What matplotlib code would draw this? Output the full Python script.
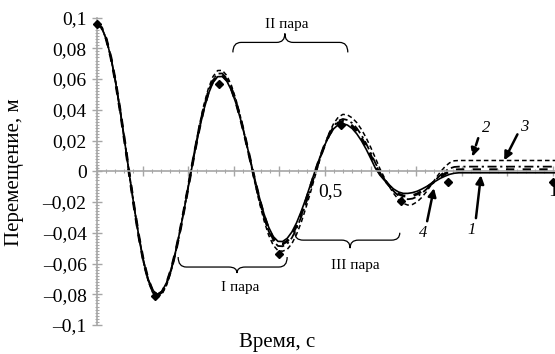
import numpy as np
import matplotlib
matplotlib.use("Agg")
import matplotlib.pyplot as plt
from matplotlib.path import Path
from matplotlib.patches import PathPatch
from matplotlib.ticker import MultipleLocator
from matplotlib.transforms import ScaledTranslation

# sample times, s
TIME = np.concatenate([np.linspace(0.0, 0.814, 81), [0.86, 0.91, 0.96, 1.01]])

# 1 - solid
CURVE_1 = [
    0.0960, 0.0934, 0.0859, 0.0739, 0.0580, 0.0392, 0.0186, -0.0026, -0.0232, -0.0420,
    -0.0579, -0.0699, -0.0774, -0.0800, -0.0781, -0.0724, -0.0634, -0.0514, -0.0371, -0.0214,
    -0.0049, 0.0114, 0.0265, 0.0397, 0.0503, 0.0577, 0.0615, 0.0616, 0.0585, 0.0524,
    0.0438, 0.0331, 0.0209, 0.0080, -0.0049, -0.0171, -0.0278, -0.0364, -0.0425, -0.0456,
    -0.0457, -0.0436, -0.0395, -0.0336, -0.0262, -0.0179, -0.0088, 0.0002, 0.0088, 0.0165,
    0.0229, 0.0276, 0.0303, 0.0310, 0.0300, 0.0278, 0.0243, 0.0198, 0.0144, 0.0083,
    0.0020, -0.0026, -0.0061, -0.0092, -0.0117, -0.0135, -0.0144, -0.0144, -0.0139, -0.0130,
    -0.0116, -0.0100, -0.0082, -0.0064, -0.0046, -0.0032, -0.0020, -0.0013, -0.0010, -0.0010,
    -0.0010, -0.0010, -0.0010, -0.0010, -0.0010,
]
# 2 - dashed
CURVE_2 = [
    0.0960, 0.0935, 0.0861, 0.0742, 0.0584, 0.0396, 0.0190, -0.0024, -0.0233, -0.0425,
    -0.0588, -0.0711, -0.0790, -0.0820, -0.0800, -0.0741, -0.0647, -0.0522, -0.0373, -0.0209,
    -0.0037, 0.0132, 0.0290, 0.0428, 0.0538, 0.0616, 0.0655, 0.0656, 0.0622, 0.0556,
    0.0461, 0.0344, 0.0211, 0.0070, -0.0071, -0.0204, -0.0321, -0.0416, -0.0482, -0.0516,
    -0.0520, -0.0508, -0.0471, -0.0411, -0.0334, -0.0240, -0.0139, -0.0032, 0.0071, 0.0165,
    0.0247, 0.0310, 0.0352, 0.0370, 0.0366, 0.0347, 0.0316, 0.0272, 0.0218, 0.0155,
    0.0086, 0.0015, -0.0046, -0.0100, -0.0147, -0.0185, -0.0209, -0.0220, -0.0216, -0.0199,
    -0.0170, -0.0133, -0.0090, -0.0046, -0.0005, 0.0030, 0.0055, 0.0068, 0.0070, 0.0070,
    0.0070, 0.0070, 0.0070, 0.0070, 0.0070,
]
# 3 - dash-dot
CURVE_3 = [
    0.0960, 0.0934, 0.0860, 0.0740, 0.0582, 0.0394, 0.0188, -0.0025, -0.0232, -0.0422,
    -0.0584, -0.0705, -0.0782, -0.0810, -0.0790, -0.0732, -0.0640, -0.0518, -0.0372, -0.0211,
    -0.0043, 0.0123, 0.0278, 0.0412, 0.0520, 0.0596, 0.0635, 0.0636, 0.0603, 0.0540,
    0.0450, 0.0338, 0.0210, 0.0075, -0.0060, -0.0188, -0.0300, -0.0390, -0.0454, -0.0486,
    -0.0488, -0.0472, -0.0433, -0.0374, -0.0298, -0.0210, -0.0114, -0.0015, 0.0080, 0.0165,
    0.0238, 0.0293, 0.0328, 0.0340, 0.0333, 0.0313, 0.0280, 0.0235, 0.0181, 0.0119,
    0.0053, -0.0006, -0.0054, -0.0096, -0.0132, -0.0160, -0.0177, -0.0182, -0.0178, -0.0165,
    -0.0143, -0.0117, -0.0086, -0.0055, -0.0026, -0.0001, 0.0018, 0.0028, 0.0030, 0.0030,
    0.0030, 0.0030, 0.0030, 0.0030, 0.0030,
]
# 4 - bold dashed
CURVE_4 = [
    0.0960, 0.0934, 0.0860, 0.0740, 0.0581, 0.0393, 0.0187, -0.0026, -0.0232, -0.0421,
    -0.0581, -0.0702, -0.0778, -0.0805, -0.0786, -0.0728, -0.0637, -0.0516, -0.0372, -0.0213,
    -0.0046, 0.0119, 0.0271, 0.0405, 0.0512, 0.0587, 0.0625, 0.0626, 0.0594, 0.0532,
    0.0444, 0.0334, 0.0210, 0.0078, -0.0055, -0.0179, -0.0289, -0.0377, -0.0439, -0.0471,
    -0.0473, -0.0454, -0.0414, -0.0355, -0.0280, -0.0195, -0.0101, -0.0006, 0.0084, 0.0165,
    0.0234, 0.0285, 0.0315, 0.0325, 0.0317, 0.0295, 0.0261, 0.0216, 0.0162, 0.0101,
    0.0037, -0.0016, -0.0058, -0.0094, -0.0124, -0.0148, -0.0160, -0.0163, -0.0158, -0.0148,
    -0.0130, -0.0108, -0.0084, -0.0060, -0.0036, -0.0017, -0.0001, 0.0008, 0.0010, 0.0010,
    0.0010, 0.0010, 0.0010, 0.0010, 0.0010,
]

# experiment points
MEAS_T = [0.0, 0.128, 0.268, 0.399, 0.535, 0.667, 0.770, 1.0]
MEAS_Y = [0.096, -0.081, 0.057, -0.054, 0.030, -0.0195, -0.007, -0.007]

Y_TICKS = [-0.1, -0.08, -0.06, -0.04, -0.02, 0.0, 0.02, 0.04, 0.06, 0.08, 0.1]
Y_TICK_LABELS = ["–0,1", "–0,08", "–0,06", "–0,04", "–0,02", "0",
                 "0,02", "0,04", "0,06", "0,08", "0,1"]
X_TICKS = [0.0, 0.1, 0.2, 0.3, 0.4, 0.5, 0.6, 0.7, 0.8, 0.9, 1.0]
X_TICK_LABELS = ["", "", "", "", "", "0,5", "", "", "", "", "1"]

GREY = "#a6a6a6"
SERIF = ["Liberation Serif", "DejaVu Serif"]


def draw_brace(ax, x0, x1, xm, y_end, y_main, y_tip, dx=0.018):
    verts = [
        (x0, y_end), (x0, y_main), (x0 + dx, y_main),
        (xm - dx, y_main),
        (xm, y_main), (xm, y_tip),
        (xm, y_main), (xm + dx, y_main),
        (x1 - dx, y_main),
        (x1, y_main), (x1, y_end),
    ]
    codes = [Path.MOVETO, Path.CURVE3, Path.CURVE3, Path.LINETO,
             Path.CURVE3, Path.CURVE3, Path.CURVE3, Path.CURVE3,
             Path.LINETO, Path.CURVE3, Path.CURVE3]
    ax.add_patch(PathPatch(Path(verts, codes), facecolor="none",
                           edgecolor="black", linewidth=0.9, clip_on=False))


def draw_arrow(ax, start, end, label, label_pos, dashed=False):
    ax.annotate(
        "", xy=end, xytext=start,
        arrowprops={
            "arrowstyle": "-|>", "color": "black", "linewidth": 1.8,
            "mutation_scale": 12, "shrinkA": 0, "shrinkB": 0,
            "linestyle": (0, (3, 1.5)) if dashed else "-",
        },
    )
    ax.text(label_pos[0], label_pos[1], label, family=SERIF, style="italic",
            fontsize=12, ha="center", va="center")


def main():
    plt.rcParams["font.family"] = SERIF
    fig = plt.figure(figsize=(5.55, 3.54), dpi=100)
    ax = fig.add_axes([97 / 555, 29 / 354, 458 / 555, 307.5 / 354])

    ax.plot(TIME, CURVE_4, color="black", linewidth=2.0, dashes=(3, 3))
    ax.plot(TIME, CURVE_3, color="black", linewidth=1.3, dashes=(5, 2, 1.2, 2))
    ax.plot(TIME, CURVE_2, color="black", linewidth=1.1, dashes=(3, 2))
    ax.plot(TIME, CURVE_1, color="black", linewidth=1.2)
    ax.plot(MEAS_T, MEAS_Y, linestyle="none", marker="D", markersize=4,
            color="black", clip_on=False, zorder=5)

    ax.set_xlim(0, 458 / 456)
    ax.set_ylim(-0.1, 0.1)

    for side in ("top", "right"):
        ax.spines[side].set_visible(False)
    ax.spines["left"].set_color(GREY)
    ax.spines["left"].set_linewidth(1.2)
    ax.spines["bottom"].set_position(("data", 0))
    ax.spines["bottom"].set_color(GREY)
    ax.spines["bottom"].set_linewidth(1.2)

    ax.set_yticks(Y_TICKS)
    ax.set_yticklabels(Y_TICK_LABELS)
    ax.set_xticks(X_TICKS)
    ax.set_xticklabels(X_TICK_LABELS)
    ax.xaxis.set_minor_locator(MultipleLocator(0.02))
    ax.yaxis.set_minor_locator(MultipleLocator(0.002))
    ax.tick_params(axis="both", which="major", direction="inout", length=7,
                   width=1.0, color=GREY, labelsize=14)
    ax.tick_params(axis="both", which="minor", direction="inout", length=3.5,
                   width=0.8, color=GREY)
    ax.tick_params(axis="y", which="major", pad=4)
    ax.tick_params(axis="x", which="major", pad=5)

    # the "0,5" label sits a little to the right of its tick in the original
    shift = ScaledTranslation(5 / 100, 0, fig.dpi_scale_trans)
    label_05 = ax.get_xticklabels()[5]
    label_05.set_transform(label_05.get_transform() + shift)

    draw_brace(ax, 0.298, 0.550, 0.412, 0.0773, 0.0838, 0.0896)
    draw_brace(ax, 0.178, 0.417, 0.307, -0.0558, -0.0623, -0.0662)
    draw_brace(ax, 0.434, 0.664, 0.555, -0.0400, -0.0448, -0.0500)
    ax.text(0.417, 0.0955, "II пара", fontsize=11, ha="center", va="center")
    ax.text(0.314, -0.0753, "I пара", fontsize=11, ha="center", va="center")
    ax.text(0.566, -0.0610, "III пара", fontsize=11, ha="center", va="center")

    draw_arrow(ax, (0.836, 0.0215), (0.823, 0.0095), "2", (0.853, 0.0280), dashed=True)
    draw_arrow(ax, (0.922, 0.0240), (0.893, 0.0071), "3", (0.937, 0.0285))
    draw_arrow(ax, (0.831, -0.0305), (0.842, -0.0026), "1", (0.822, -0.0383))
    draw_arrow(ax, (0.724, -0.0325), (0.739, -0.0110), "4", (0.715, -0.0400))

    fig.text(15 / 555, 1 - 172 / 354, "Перемещение, м", rotation=90,
             fontsize=15, ha="center", va="center")
    fig.text(277 / 555, 1 - 343 / 354, "Время, с", fontsize=15,
             ha="center", va="center")

    fig.savefig("out.png", dpi=100)


if __name__ == "__main__":
    main()
